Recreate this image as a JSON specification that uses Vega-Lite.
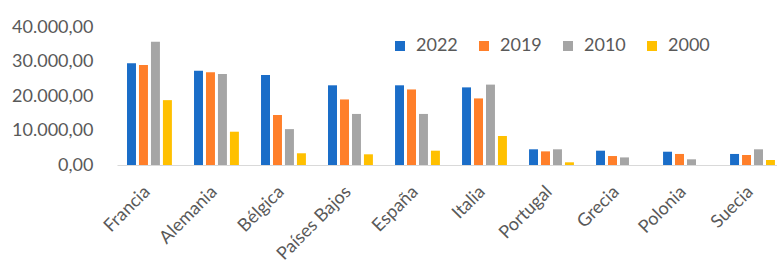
{
  "$schema": "https://vega.github.io/schema/vega-lite/v6.json",
  "width": 660,
  "height": 138,
  "autosize": {"type": "none"},
  "padding": {"left": 117, "top": 27, "right": 0, "bottom": 97},
  "background": "white",
  "config": {
    "locale": {"number": {"decimal": ",", "thousands": ".", "grouping": [3], "currency": ["", " €"]}},
    "view": {"stroke": null},
    "font": "Lato"
  },
  "data": {
    "values": [
      {"pais": "Francia", "anio": "2022", "valor": 29500},
      {"pais": "Francia", "anio": "2019", "valor": 29000},
      {"pais": "Francia", "anio": "2010", "valor": 35700},
      {"pais": "Francia", "anio": "2000", "valor": 18800},
      {"pais": "Alemania", "anio": "2022", "valor": 27300},
      {"pais": "Alemania", "anio": "2019", "valor": 26900},
      {"pais": "Alemania", "anio": "2010", "valor": 26400},
      {"pais": "Alemania", "anio": "2000", "valor": 9650},
      {"pais": "Bélgica", "anio": "2022", "valor": 26100},
      {"pais": "Bélgica", "anio": "2019", "valor": 14500},
      {"pais": "Bélgica", "anio": "2010", "valor": 10400},
      {"pais": "Bélgica", "anio": "2000", "valor": 3400},
      {"pais": "Países Bajos", "anio": "2022", "valor": 23100},
      {"pais": "Países Bajos", "anio": "2019", "valor": 19000},
      {"pais": "Países Bajos", "anio": "2010", "valor": 14800},
      {"pais": "Países Bajos", "anio": "2000", "valor": 3100},
      {"pais": "España", "anio": "2022", "valor": 23100},
      {"pais": "España", "anio": "2019", "valor": 21900},
      {"pais": "España", "anio": "2010", "valor": 14800},
      {"pais": "España", "anio": "2000", "valor": 4150},
      {"pais": "Italia", "anio": "2022", "valor": 22500},
      {"pais": "Italia", "anio": "2019", "valor": 19300},
      {"pais": "Italia", "anio": "2010", "valor": 23300},
      {"pais": "Italia", "anio": "2000", "valor": 8400},
      {"pais": "Portugal", "anio": "2022", "valor": 4550},
      {"pais": "Portugal", "anio": "2019", "valor": 3950},
      {"pais": "Portugal", "anio": "2010", "valor": 4550},
      {"pais": "Portugal", "anio": "2000", "valor": 780},
      {"pais": "Grecia", "anio": "2022", "valor": 4150},
      {"pais": "Grecia", "anio": "2019", "valor": 2600},
      {"pais": "Grecia", "anio": "2010", "valor": 2200},
      {"pais": "Polonia", "anio": "2022", "valor": 3850},
      {"pais": "Polonia", "anio": "2019", "valor": 3200},
      {"pais": "Polonia", "anio": "2010", "valor": 1650},
      {"pais": "Suecia", "anio": "2022", "valor": 3200},
      {"pais": "Suecia", "anio": "2019", "valor": 2900},
      {"pais": "Suecia", "anio": "2010", "valor": 4550},
      {"pais": "Suecia", "anio": "2000", "valor": 1450}
    ]
  },
  "mark": {"type": "bar"},
  "encoding": {
    "x": {
      "field": "pais",
      "type": "nominal",
      "sort": null,
      "scale": {"paddingInner": 0.33, "paddingOuter": 0.09, "align": 0.83},
      "axis": {
        "title": null,
        "labelAngle": -45,
        "labelAlign": "right",
        "labelBaseline": "middle",
        "labelFontSize": 18,
        "labelColor": "#595959",
        "labelPadding": 24,
        "labelOffset": -2,
        "ticks": false,
        "domainColor": "#D9D9D9",
        "domainWidth": 1
      }
    },
    "xOffset": {
      "field": "anio",
      "type": "nominal",
      "scale": {"domain": ["2022", "2019", "2010", "2000"], "paddingInner": 0.25, "paddingOuter": 0}
    },
    "y": {
      "field": "valor",
      "type": "quantitative",
      "scale": {"domain": [0, 40000]},
      "axis": {
        "title": null,
        "values": [0, 10000, 20000, 30000, 40000],
        "format": ",.2f",
        "grid": false,
        "domain": false,
        "ticks": false,
        "labelFontSize": 18,
        "labelColor": "#595959",
        "labelPadding": 24
      }
    },
    "color": {
      "field": "anio",
      "type": "nominal",
      "scale": {"domain": ["2022", "2019", "2010", "2000"], "range": ["#1A6DC8", "#FF7F2A", "#A5A5A5", "#FFC000"]},
      "legend": {
        "title": null,
        "orient": "none",
        "direction": "horizontal",
        "legendX": 274,
        "legendY": 10,
        "symbolType": "square",
        "symbolSize": 100,
        "symbolStrokeWidth": 0,
        "labelFontSize": 18,
        "labelColor": "#595959",
        "labelOffset": 7,
        "columnPadding": 17,
        "padding": 0
      }
    }
  }
}
